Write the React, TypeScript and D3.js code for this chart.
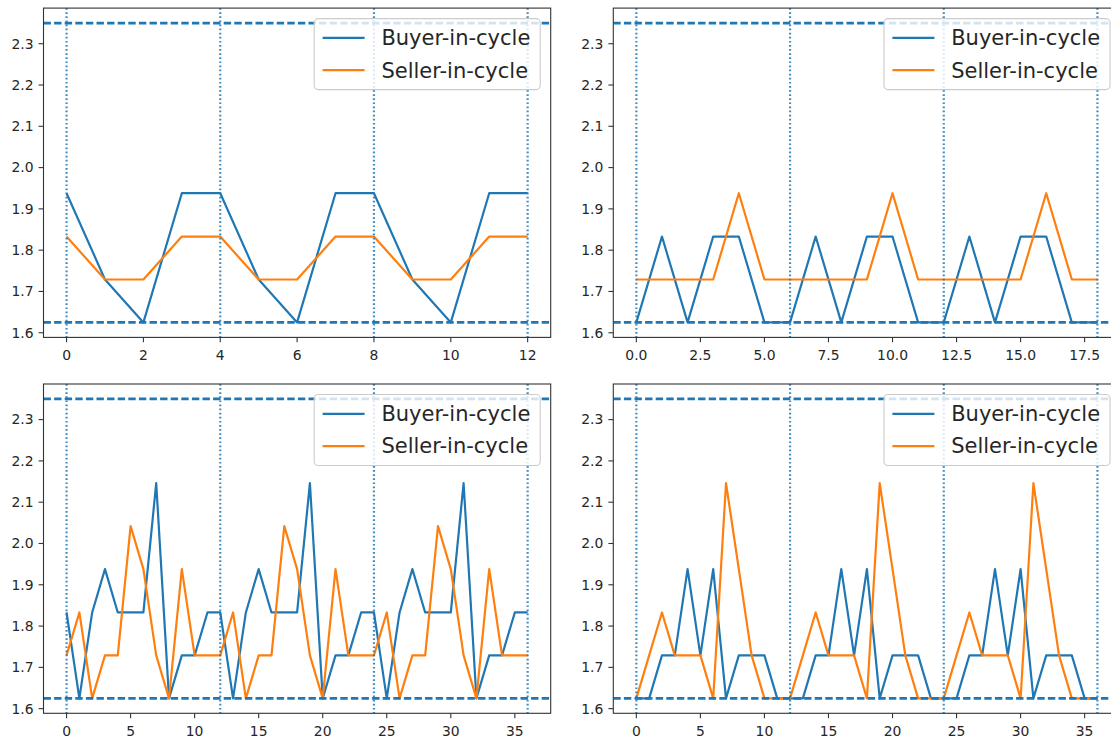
import React from 'react'
import * as d3 from 'd3'

// panel data: buyer / seller value per step
const p1Buyer = [1.938, 1.729, 1.625, 1.938, 1.938, 1.729, 1.625, 1.938, 1.938, 1.729, 1.625, 1.938, 1.938]
const p1Seller = [1.833, 1.729, 1.729, 1.833, 1.833, 1.729, 1.729, 1.833, 1.833, 1.729, 1.729, 1.833, 1.833]

const p2Buyer = [1.625, 1.833, 1.625, 1.833, 1.833, 1.625, 1.625, 1.833, 1.625, 1.833, 1.833, 1.625, 1.625, 1.833, 1.625, 1.833, 1.833, 1.625, 1.625]
const p2Seller = [1.729, 1.729, 1.729, 1.729, 1.938, 1.729, 1.729, 1.729, 1.729, 1.729, 1.938, 1.729, 1.729, 1.729, 1.729, 1.729, 1.938, 1.729, 1.729]

const p3Buyer = [
    1.833, 1.625, 1.833, 1.938, 1.833, 1.833, 1.833, 2.146, 1.625, 1.729, 1.729, 1.833, 1.833,
    1.625, 1.833, 1.938, 1.833, 1.833, 1.833, 2.146, 1.625, 1.729, 1.729, 1.833, 1.833,
    1.625, 1.833, 1.938, 1.833, 1.833, 1.833, 2.146, 1.625, 1.729, 1.729, 1.833, 1.833]
const p3Seller = [
    1.729, 1.833, 1.625, 1.729, 1.729, 2.042, 1.938, 1.729, 1.625, 1.938, 1.729, 1.729, 1.729,
    1.833, 1.625, 1.729, 1.729, 2.042, 1.938, 1.729, 1.625, 1.938, 1.729, 1.729, 1.729,
    1.833, 1.625, 1.729, 1.729, 2.042, 1.938, 1.729, 1.625, 1.938, 1.729, 1.729, 1.729]

const p4Buyer = [
    1.625, 1.625, 1.729, 1.729, 1.938, 1.729, 1.938, 1.625, 1.729, 1.729, 1.729, 1.625, 1.625,
    1.625, 1.729, 1.729, 1.938, 1.729, 1.938, 1.625, 1.729, 1.729, 1.729, 1.625, 1.625,
    1.625, 1.729, 1.729, 1.938, 1.729, 1.938, 1.625, 1.729, 1.729, 1.729, 1.625, 1.625]
const p4Seller = [
    1.625, 1.729, 1.833, 1.729, 1.729, 1.729, 1.625, 2.146, 1.938, 1.729, 1.625, 1.625, 1.625,
    1.729, 1.833, 1.729, 1.729, 1.729, 1.625, 2.146, 1.938, 1.729, 1.625, 1.625, 1.625,
    1.729, 1.833, 1.729, 1.729, 1.729, 1.625, 2.146, 1.938, 1.729, 1.625, 1.625, 1.625]

// cycle boundaries (dotted verticals) and x ticks
const p1Cycles = [0, 4, 8, 12]
const p2Cycles = [0, 6, 12, 18]
const p34Cycles = [0, 12, 24, 36]
const p1Ticks = [0, 2, 4, 6, 8, 10, 12]
const p2Ticks = [0, 2.5, 5, 7.5, 10, 12.5, 15, 17.5]
const p34Ticks = [0, 5, 10, 15, 20, 25, 30, 35]
const yTicks = [1.6, 1.7, 1.8, 1.9, 2.0, 2.1, 2.2, 2.3]

// horizontal dashed bounds
const lowBound = 1.625
const highBound = 2.35

const seriesNames = ['Buyer-in-cycle', 'Seller-in-cycle']
const colors = ['#1f77b4', '#ff7f0e']

const W = 1111
const H = 741
const axW = 507.2
const axH = 329.3
const font = '"DejaVu Sans", sans-serif'

function Panel(props: any) {
    const { left, top, buyer, seller, cycles, ticks, tickFmt } = props
    const n = buyer.length - 1
    const x = d3.scaleLinear().domain([-0.05 * n, n * 1.05]).range([left, left + axW])
    const pad = (highBound - lowBound) * 0.05
    const y = d3.scaleLinear().domain([lowBound - pad, highBound + pad]).range([top + axH, top])
    const line = d3.line<number>().x((d, i) => x(i)).y(d => y(d))

    const fs = 21
    const legW = 226
    const legH = 71
    const lx = left + axW - 10.5 - legW
    const ly = top + 10.5
    const rows = [ly + 8.4 + 10.9, ly + 8.4 + 21.8 + 10.5 + 10.9]

    return (
        <g>
            <defs>
                <clipPath id={'clip' + left + '_' + top}>
                    <rect x={left} y={top} width={axW} height={axH} />
                </clipPath>
            </defs>
            <g clipPath={'url(#clip' + left + '_' + top + ')'}>
                {[buyer, seller].map((s: number[], k: number) => (
                    <path key={k} d={line(s) || ''} fill='none' stroke={colors[k]}
                        strokeWidth={2.2} strokeLinejoin='round' />
                ))}
                {[lowBound, highBound].map(v => (
                    <line key={v} x1={left} x2={left + axW} y1={y(v)} y2={y(v)}
                        stroke='#1f77b4' strokeWidth={2.8} strokeDasharray='7.4,3.2' />
                ))}
                {cycles.map((c: number) => (
                    <line key={c} x1={x(c)} x2={x(c)} y1={top} y2={top + axH}
                        stroke='#1f77b4' strokeOpacity={0.85} strokeWidth={2.2} strokeDasharray='1.7,2.4' />
                ))}
            </g>
            <rect x={left} y={top} width={axW} height={axH} fill='none' stroke='#333' strokeWidth={1.1} />
            {yTicks.map(t => (
                <g key={t}>
                    <line x1={left - 4.9} x2={left} y1={y(t)} y2={y(t)} stroke='#333' strokeWidth={1.1} />
                    <text x={left - 10} y={y(t)} dy='0.35em' textAnchor='end' fontSize={13.9}
                        fill='#262626' fontFamily={font}>{t.toFixed(1)}</text>
                </g>
            ))}
            {ticks.map((t: number) => (
                <g key={t}>
                    <line x1={x(t)} x2={x(t)} y1={top + axH} y2={top + axH + 4.9} stroke='#333' strokeWidth={1.1} />
                    <text x={x(t)} y={top + axH + 22.5} textAnchor='middle' fontSize={13.9}
                        fill='#262626' fontFamily={font}>{tickFmt(t)}</text>
                </g>
            ))}
            <rect x={lx} y={ly} width={legW} height={legH} rx={4} fill='white' fillOpacity={0.8}
                stroke='#cccccc' strokeWidth={1.1} />
            {seriesNames.map((name, k) => (
                <g key={name}>
                    <line x1={lx + 8.4} x2={lx + 50.4} y1={rows[k]} y2={rows[k]} stroke={colors[k]} strokeWidth={2.2} />
                    <text x={lx + 67.2} y={rows[k]} dy='0.35em' fontSize={fs} fill='#262626'
                        fontFamily={font}>{name}</text>
                </g>
            ))}
        </g>
    )
}

export default function App() {
    const intFmt = (t: number) => String(t)
    const decFmt = (t: number) => t.toFixed(1)
    return (
        <svg width={W} height={H} style={{ position: 'absolute', left: 0, top: 0, background: 'white' }}>
            <rect width={W} height={H} fill='white' />
            <Panel left={43.5} top={8.1} buyer={p1Buyer} seller={p1Seller} cycles={p1Cycles} ticks={p1Ticks} tickFmt={intFmt} />
            <Panel left={613.3} top={8.1} buyer={p2Buyer} seller={p2Seller} cycles={p2Cycles} ticks={p2Ticks} tickFmt={decFmt} />
            <Panel left={43.5} top={384} buyer={p3Buyer} seller={p3Seller} cycles={p34Cycles} ticks={p34Ticks} tickFmt={intFmt} />
            <Panel left={613.3} top={384} buyer={p4Buyer} seller={p4Seller} cycles={p34Cycles} ticks={p34Ticks} tickFmt={intFmt} />
        </svg>
    )
}
